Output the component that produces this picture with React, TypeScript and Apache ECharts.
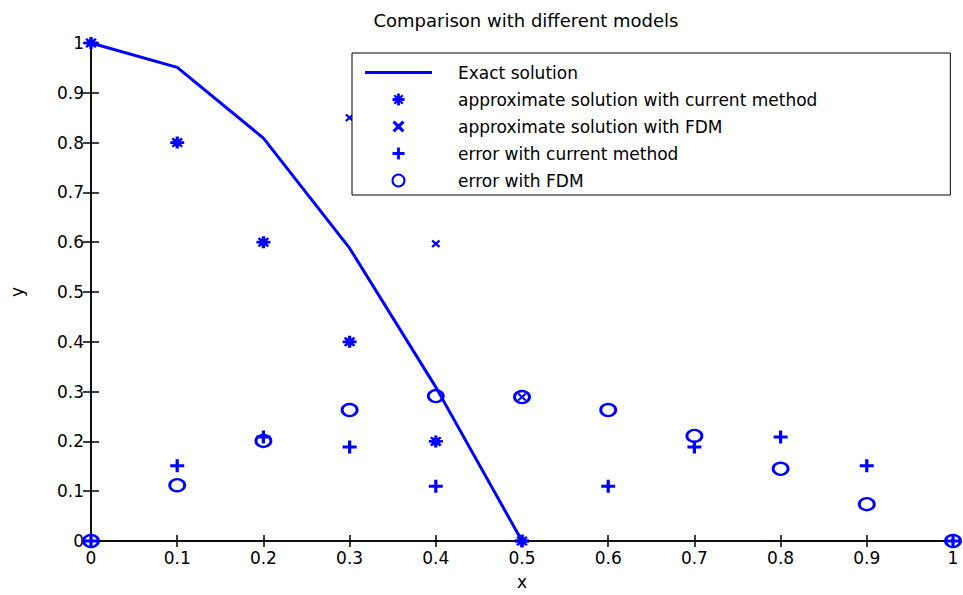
import React, { useEffect, useRef } from "react";
import * as echarts from "echarts";

const titleText = "Comparison with different models";
const legendNames = [
  "Exact solution",
  "approximate solution with current method",
  "approximate solution with FDM",
  "error with current method",
  "error with FDM",
];

const exactX = [0, 0.1, 0.2, 0.3, 0.4, 0.5];
const exactY = [1, 0.951, 0.809, 0.588, 0.309, 0];

const currentX = [0, 0.1, 0.2, 0.3, 0.4, 0.5];
const currentY = [1, 0.8, 0.6, 0.4, 0.2, 0];

const fdmX = [0.3, 0.4, 0.5];
const fdmY = [0.85, 0.597, 0.289];

const errX = [0, 0.1, 0.2, 0.3, 0.4, 0.5, 0.6, 0.7, 0.8, 0.9, 1];
const errCurrentY = [0, 0.151, 0.209, 0.189, 0.11, 0, 0.11, 0.189, 0.209, 0.151, 0];
const errFdmY = [0, 0.112, 0.201, 0.263, 0.291, 0.289, 0.263, 0.211, 0.145, 0.074, 0];

const FONT = "DejaVu Sans";
const BLUE = "#0000ff";

const starPath =
  "path://M0,4.6H12V7.4H0Z M4.6,0H7.4V12H4.6Z M1,2.6L2.6,1L11,9.4L9.4,11Z M9.4,1L11,2.6L2.6,11L1,9.4Z M6,1L11,6L6,11L1,6Z";
const xPath = "path://M0,1.8L1.8,0L10,8.2L8.2,10Z M8.2,0L10,1.8L1.8,10L0,8.2Z";
const plusPath = "path://M5,0H8V5H13V8H8V13H5V8H0V5H5Z";
const lineIcon = "path://M0,0H67V3H0Z";

const zip = (xs: number[], ys: number[]) => xs.map((x, i) => [x, ys[i]]);

export default function App() {
  const ref = useRef<HTMLDivElement>(null);
  useEffect(() => {
    document.body.style.margin = "0";
    document.body.style.overflow = "hidden";
    const chart = echarts.init(ref.current!, null, { renderer: "svg", width: 963, height: 595 });
    const axisLine = { show: true, lineStyle: { color: "#000", width: 1.5 } };
    chart.setOption({
      animation: false,
      backgroundColor: "#fff",
      title: {
        text: titleText,
        left: 521,
        top: 6,
        textAlign: "center",
        textStyle: { fontFamily: FONT, fontSize: 18, fontWeight: "normal", color: "#000" },
      },
      legend: {
        orient: "vertical",
        left: 352,
        top: 53,
        padding: [11, 133, 6, 13],
        itemWidth: 67,
        itemHeight: 12,
        itemGap: 10,
        borderColor: "#000",
        borderWidth: 1,
        backgroundColor: "#fff",
        textStyle: { fontFamily: FONT, fontSize: 17, color: "#000", padding: [0, 0, 0, 21] },
        data: [
          { name: legendNames[0], icon: lineIcon, itemStyle: { color: BLUE } },
          legendNames[1],
          legendNames[2],
          legendNames[3],
          legendNames[4],
        ],
      },
      grid: { left: 91, top: 43, right: 10, bottom: 50, containLabel: false },
      xAxis: [
        {
          type: "value",
          min: 0,
          max: 1,
          interval: 0.1,
          name: "x",
          nameLocation: "middle",
          nameGap: 32,
          nameTextStyle: { fontFamily: FONT, fontSize: 17, color: "#000" },
          axisLine,
          axisTick: { show: true, inside: true, length: 6, lineStyle: { color: "#000", width: 1.5 } },
          axisLabel: { fontFamily: FONT, fontSize: 17, color: "#000", margin: 8 },
          splitLine: { show: false },
        },
        {
          type: "value",
          position: "top",
          min: 0,
          max: 1,
          interval: 0.1,
          axisLine,
          axisTick: { show: true, inside: true, length: 6, lineStyle: { color: "#000", width: 1.5 } },
          axisLabel: { show: false },
          splitLine: { show: false },
        },
      ],
      yAxis: [
        {
          type: "value",
          min: 0,
          max: 1,
          interval: 0.1,
          name: "y",
          nameLocation: "middle",
          nameGap: 66,
          nameTextStyle: { fontFamily: FONT, fontSize: 17, color: "#000" },
          axisLine,
          axisTick: { show: true, inside: true, length: 8, lineStyle: { color: "#000", width: 1.5 } },
          axisLabel: { fontFamily: FONT, fontSize: 17, color: "#000", margin: 7 },
          splitLine: { show: false },
        },
        {
          type: "value",
          position: "right",
          min: 0,
          max: 1,
          interval: 0.1,
          axisLine,
          axisTick: { show: true, inside: true, length: 8, lineStyle: { color: "#000", width: 1.5 } },
          axisLabel: { show: false },
          splitLine: { show: false },
        },
      ],
      series: [
        {
          name: legendNames[0],
          type: "line",
          data: zip(exactX, exactY),
          symbol: "none",
          color: BLUE,
          lineStyle: { color: BLUE, width: 3 },
          z: 2,
        },
        {
          name: legendNames[1],
          type: "scatter",
          data: zip(currentX, currentY),
          symbol: starPath,
          symbolSize: [14, 12],
          itemStyle: { color: BLUE, borderWidth: 0, opacity: 1 },
          clip: false,
          z: 3,
        },
        {
          name: legendNames[2],
          type: "scatter",
          data: zip(fdmX, fdmY),
          symbol: xPath,
          symbolSize: [9, 8],
          itemStyle: { color: BLUE, borderWidth: 0, opacity: 1 },
          clip: false,
          z: 3,
        },
        {
          name: legendNames[3],
          type: "scatter",
          data: zip(errX, errCurrentY),
          symbol: plusPath,
          symbolSize: [14, 13],
          itemStyle: { color: BLUE, borderWidth: 0, opacity: 1 },
          clip: false,
          z: 3,
        },
        {
          name: legendNames[4],
          type: "scatter",
          data: zip(errX, errFdmY),
          symbol: "circle",
          symbolSize: [15, 12],
          itemStyle: { color: "rgba(255,255,255,0)", borderColor: BLUE, borderWidth: 2.6, opacity: 1 },
          clip: false,
          z: 3,
        },
      ],
    });
    return () => chart.dispose();
  }, []);
  return <div ref={ref} style={{ position: "fixed", left: 0, top: 0, width: 963, height: 595 }} />;
}
